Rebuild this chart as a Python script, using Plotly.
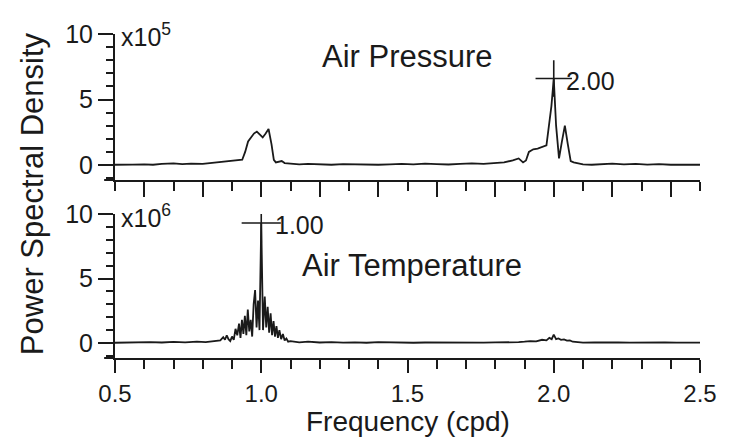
import plotly.graph_objects as go

# ---------------- data ----------------
# Air Pressure PSD (x10^5)
freq_pressure = [0.50, 0.53, 0.56, 0.60, 0.63, 0.66, 0.70, 0.73, 0.76, 0.80,
                 0.83, 0.86, 0.88, 0.90, 0.92, 0.935, 0.945, 0.955, 0.965, 0.975,
                 0.985, 0.995, 1.005, 1.015, 1.025, 1.035, 1.043, 1.05, 1.06, 1.07,
                 1.08, 1.10, 1.13, 1.16, 1.20, 1.24, 1.28, 1.32, 1.36, 1.40,
                 1.44, 1.48, 1.52, 1.56, 1.60, 1.64, 1.68, 1.72, 1.76, 1.80,
                 1.83, 1.86, 1.88, 1.895, 1.905, 1.915, 1.93, 1.945, 1.96, 1.975,
                 1.992, 2.00, 2.008, 2.018, 2.028, 2.038, 2.048, 2.058, 2.068, 2.08,
                 2.10, 2.13, 2.16, 2.20, 2.24, 2.28, 2.32, 2.36, 2.40, 2.44,
                 2.48, 2.50]
psd_pressure = [0.02, 0.00, 0.03, 0.05, 0.02, 0.08, 0.12, 0.06, 0.10, 0.08,
                0.15, 0.20, 0.22, 0.30, 0.35, 0.40, 1.00, 1.80, 2.10, 2.40,
                2.55, 2.30, 2.10, 2.40, 2.75, 1.60, 0.40, 0.20, 0.25, 0.30,
                0.15, 0.10, 0.05, 0.08, 0.05, 0.02, 0.06, 0.03, 0.04, 0.02,
                0.05, 0.08, 0.05, 0.10, 0.06, 0.04, 0.08, 0.12, 0.08, 0.15,
                0.20, 0.35, 0.50, 0.20, 0.35, 1.00, 1.20, 1.25, 1.35, 1.50,
                4.50, 6.60, 3.00, 0.50, 1.80, 3.00, 1.60, 0.30, 0.20, 0.15,
                0.05, 0.02, 0.06, 0.10, 0.05, 0.08, 0.03, 0.06, 0.02, 0.05,
                0.03, 0.02]

# Air Temperature PSD (x10^6)
freq_temperature = [0.50, 0.54, 0.58, 0.62, 0.66, 0.70, 0.74, 0.78, 0.81, 0.84,
                    0.86, 0.870, 0.876, 0.882, 0.888, 0.894, 0.900, 0.906, 0.912, 0.918,
                    0.924, 0.929, 0.934, 0.939, 0.944, 0.949, 0.954, 0.959, 0.964, 0.969,
                    0.974, 0.979, 0.984, 0.989, 0.994, 1.000, 1.006, 1.012, 1.017, 1.022,
                    1.027, 1.032, 1.037, 1.042, 1.047, 1.052, 1.057, 1.062, 1.068, 1.074,
                    1.080, 1.086, 1.092, 1.10, 1.13, 1.16, 1.20, 1.24, 1.28, 1.32,
                    1.36, 1.40, 1.44, 1.48, 1.52, 1.56, 1.60, 1.64, 1.68, 1.72,
                    1.76, 1.80, 1.84, 1.88, 1.90, 1.92, 1.94, 1.96, 1.975, 1.985,
                    1.993, 2.000, 2.008, 2.016, 2.025, 2.035, 2.045, 2.055, 2.065, 2.08,
                    2.10, 2.14, 2.18, 2.22, 2.26, 2.30, 2.34, 2.38, 2.42, 2.46,
                    2.50]
psd_temperature = [0.02, 0.05, 0.03, 0.06, 0.04, 0.08, 0.05, 0.10, 0.06, 0.12,
                   0.20, 0.45, 0.25, 0.60, 0.30, 0.15, 0.50, 0.25, 1.10, 0.60,
                   1.50, 0.40, 1.80, 0.70, 2.10, 0.60, 2.60, 0.90, 1.80, 0.50,
                   3.00, 4.10, 1.20, 3.30, 1.00, 9.30, 1.00, 3.60, 1.20, 2.80,
                   0.80, 2.30, 0.60, 1.70, 0.50, 1.30, 0.40, 1.00, 0.30, 0.70,
                   0.20, 0.35, 0.10, 0.15, 0.05, 0.10, 0.04, 0.07, 0.03, 0.05,
                   0.02, 0.06, 0.03, 0.05, 0.02, 0.04, 0.03, 0.05, 0.02, 0.04,
                   0.03, 0.05, 0.03, 0.06, 0.10, 0.15, 0.12, 0.25, 0.20, 0.40,
                   0.30, 0.65, 0.30, 0.35, 0.25, 0.28, 0.18, 0.20, 0.10, 0.06,
                   0.03, 0.05, 0.02, 0.04, 0.03, 0.05, 0.02, 0.04, 0.03, 0.05,
                   0.03]

peak_pressure_freq = [2.00]
peak_pressure_val = [6.60]
peak_pressure_label = "2.00"
peak_temperature_freq = [1.00]
peak_temperature_val = [9.30]
peak_temperature_label = "1.00"

x_tick_vals = [0.5, 1.0, 1.5, 2.0, 2.5]
x_tick_text = ["0.5", "1.0", "1.5", "2.0", "2.5"]
y_tick_vals = [0, 5, 10]
y_tick_text = ["0", "5", "10"]

# ---------------- layout geometry ----------------
W, H = 729, 439
ML, MR, MT, MB = 115, 21, 34, 81
PW = W - ML - MR
PH = H - MT - MB


def px_x(px):
    return (px - ML) / PW


def px_y(py):
    return (H - MB - py) / PH


FONT = "Arial, Liberation Sans, Helvetica, sans-serif"
INK = "#1a1a1a"

fig = go.Figure()
fig.add_trace(go.Scatter(x=freq_pressure, y=psd_pressure, mode="lines",
                         line=dict(color=INK, width=1.8), xaxis="x", yaxis="y",
                         showlegend=False, hoverinfo="skip"))
fig.add_trace(go.Scatter(x=freq_temperature, y=psd_temperature, mode="lines",
                         line=dict(color=INK, width=1.8), xaxis="x2", yaxis="y2",
                         showlegend=False, hoverinfo="skip"))
fig.add_trace(go.Scatter(x=peak_pressure_freq, y=peak_pressure_val, mode="markers",
                         marker=dict(symbol="cross-thin", size=26,
                                     line=dict(color=INK, width=1.6)),
                         xaxis="x", yaxis="y", showlegend=False, hoverinfo="skip"))
fig.add_trace(go.Scatter(x=peak_temperature_freq, y=peak_temperature_val, mode="markers",
                         marker=dict(symbol="cross-thin", size=28,
                                     line=dict(color=INK, width=1.6)),
                         xaxis="x2", yaxis="y2", showlegend=False, hoverinfo="skip"))

top_dom = [px_y(180), px_y(34)]
bot_dom = [px_y(358), px_y(214)]

axis_common = dict(showline=True, linecolor=INK, linewidth=2, showgrid=False,
                   zeroline=False, ticks="outside", tickcolor=INK, tickwidth=2,
                   tickfont=dict(family=FONT, size=25, color=INK))

fig.update_layout(
    width=W, height=H,
    margin=dict(l=ML, r=MR, t=MT, b=MB),
    paper_bgcolor="white", plot_bgcolor="white",
    xaxis=dict(**axis_common, domain=[0, 1], range=[0.5, 2.5], anchor="y",
               tickmode="linear", tick0=0.0, dtick=0.2, ticklen=15,
               showticklabels=False,
               minor=dict(ticks="outside", dtick=0.1, tick0=0.0, ticklen=9,
                          tickwidth=2, tickcolor=INK)),
    yaxis=dict(**axis_common, domain=top_dom, range=[-1.145, 10], anchor="x",
               tickvals=y_tick_vals, ticktext=y_tick_text, ticklen=15,
               minor=dict(ticks="outside", dtick=1, tick0=0, ticklen=7,
                          tickwidth=2, tickcolor=INK)),
    xaxis2=dict(**axis_common, domain=[0, 1], range=[0.5, 2.5], anchor="y2",
                tickvals=x_tick_vals, ticktext=x_tick_text, ticklen=14,
                minor=dict(ticks="outside", dtick=0.1, tick0=0.0, ticklen=9,
                           tickwidth=2, tickcolor=INK)),
    yaxis2=dict(**axis_common, domain=bot_dom, range=[-1.163, 10], anchor="x2",
                tickvals=y_tick_vals, ticktext=y_tick_text, ticklen=15,
                minor=dict(ticks="outside", dtick=1, tick0=0, ticklen=7,
                           tickwidth=2, tickcolor=INK)),
)
fig.update_layout(xaxis2=dict(tickfont=dict(size=24), ticklen=13))

# small left extensions of the x-axis lines
for py in (180, 358):
    fig.add_shape(type="line", xref="paper", yref="paper",
                  x0=px_x(104), x1=px_x(115), y0=px_y(py), y1=px_y(py),
                  line=dict(color=INK, width=2))

txt = dict(family=FONT, color=INK)
annotations = [
    dict(text="Power Spectral Density", x=px_x(31), y=px_y(194), textangle=-90,
         font=dict(size=31, **txt)),
    dict(text="Frequency (cpd)", x=px_x(412), y=px_y(438.5), yanchor="bottom",
         font=dict(size=28, **txt)),
    dict(text="Air Pressure", x=px_x(412), y=px_y(57),
         font=dict(size=31, **txt)),
    dict(text="Air Temperature", x=px_x(416), y=px_y(265),
         font=dict(size=31, **txt)),
    dict(text="x10<sup>5</sup>", x=px_x(119), y=px_y(35), xanchor="left",
         font=dict(size=25, **txt)),
    dict(text="x10<sup>6</sup>", x=px_x(119), y=px_y(216), xanchor="left",
         font=dict(size=25, **txt)),
]
for a in annotations:
    a.setdefault("xref", "paper")
    a.setdefault("yref", "paper")
    a.setdefault("xanchor", "center")
    a.setdefault("yanchor", "middle")
    a["showarrow"] = False
    fig.add_annotation(**a)

fig.add_annotation(x=peak_pressure_freq[0], y=peak_pressure_val[0], xref="x", yref="y",
                   text=peak_pressure_label, showarrow=False, xanchor="left",
                   yanchor="middle", xshift=10, yshift=-2, font=dict(size=25, **txt))
fig.add_annotation(x=peak_temperature_freq[0], y=peak_temperature_val[0], xref="x2", yref="y2",
                   text=peak_temperature_label, showarrow=False, xanchor="left",
                   yanchor="middle", xshift=12, yshift=-2, font=dict(size=25, **txt))

fig.write_html("out.html")
